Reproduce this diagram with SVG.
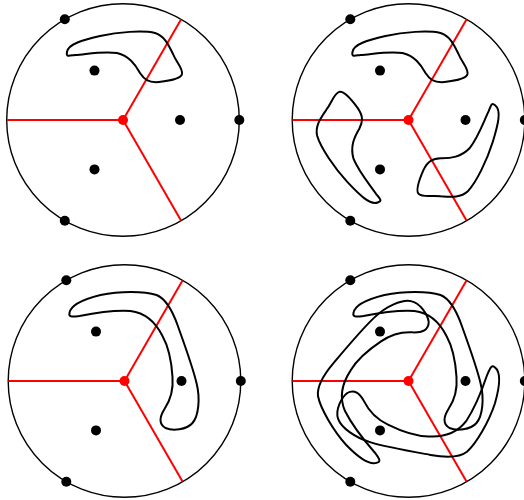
<svg xmlns="http://www.w3.org/2000/svg" xmlns:xlink="http://www.w3.org/1999/xlink" width="524" height="500" viewBox="0 0 524 500">
<style>
.disk{fill:none;stroke:#000;stroke-width:1.4}
.cut{stroke:#f00;stroke-width:2;fill:none}
.pt{fill:#000}
.hub{fill:#f00}
.loop{fill:none;stroke:#000;stroke-width:2;stroke-linejoin:round}
</style>
<defs>
<g id="base">
<circle class="disk" cx="0" cy="0" r="116.3"/>
<line class="cut" x1="0" y1="0" x2="-116" y2="0"/>
<line class="cut" x1="-56" y1="0" x2="0" y2="0" stroke-width="2.6"/>
<line class="cut" x1="0" y1="0" x2="58" y2="-100.5"/>
<line class="cut" x1="0" y1="0" x2="58" y2="100.5"/>
<circle class="hub" cx="0" cy="0" r="5"/>
<circle class="pt" cx="116.3" cy="0" r="5"/>
<circle class="pt" cx="-58.2" cy="-100.7" r="5"/>
<circle class="pt" cx="-58.2" cy="100.7" r="5"/>
<circle class="pt" cx="57" cy="0" r="5"/>
<circle class="pt" cx="-28.5" cy="-49.4" r="5"/>
<circle class="pt" cx="-28.5" cy="49.4" r="5"/>
</g>
<path id="shortLoop" class="loop" d="M -56 -68 C -55 -76, -40 -80, -23 -84 C -5 -88, 20 -90, 32 -87 C 42 -84, 46 -74, 50 -66 C 53 -58, 60 -52, 59 -46 C 58 -41, 45 -39, 36 -38 C 25 -37, 21 -41, 17 -47 C 12 -56, 6 -64, -6 -67 C -20 -69, -35 -66, -48 -65 C -55 -64, -57 -63, -56 -68 Z"/>
<path id="longLoop" class="loop" d="M -55 -68 C -54 -76, -40 -82, -24 -86 C -5 -90, 20 -90, 32 -86 C 42 -82, 48 -70, 53 -56 C 58 -42, 68 -15, 72 2 C 76 18, 74 35, 68 42 C 62 49, 48 50, 41 47 C 34 43, 35 36, 40 28 C 46 19, 49 8, 48 -4 C 47 -20, 43 -36, 38 -45 C 32 -57, 22 -68, 6 -70 C -10 -71, -30 -68, -45 -65 C -53 -64, -56 -64, -55 -68 Z"/>
</defs>
<g id="panel-top-left" transform="translate(123,120)">
<use xlink:href="#base" href="#base"/>
<use xlink:href="#shortLoop" href="#shortLoop"/>
</g>
<g id="panel-top-right" transform="translate(408.5,120)">
<use xlink:href="#base" href="#base"/>
<use xlink:href="#shortLoop" href="#shortLoop"/>
<use xlink:href="#shortLoop" href="#shortLoop" transform="rotate(120)"/>
<use xlink:href="#shortLoop" href="#shortLoop" transform="rotate(240)"/>
</g>
<g id="panel-bottom-left" transform="translate(124.5,381)">
<use xlink:href="#base" href="#base"/>
<use xlink:href="#longLoop" href="#longLoop"/>
</g>
<g id="panel-bottom-right" transform="translate(408.5,381)">
<use xlink:href="#base" href="#base"/>
<use xlink:href="#longLoop" href="#longLoop"/>
<use xlink:href="#longLoop" href="#longLoop" transform="rotate(120)"/>
<use xlink:href="#longLoop" href="#longLoop" transform="rotate(240)"/>
</g>
</svg>
